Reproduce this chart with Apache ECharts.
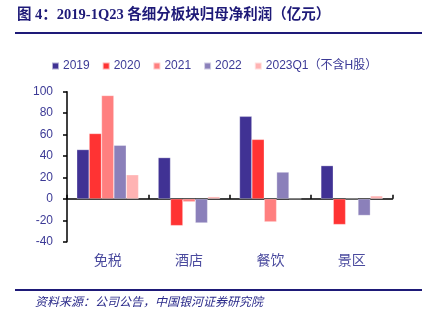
<!DOCTYPE html>
<html>
<head>
<meta charset="utf-8">
<script src="https://cdn.jsdelivr.net/npm/echarts@6/dist/echarts.min.js"></script>
<style>
  html, body { margin: 0; padding: 0; background: #fff; }
  #chart { width: 434px; height: 326px; }
</style>
</head>
<body>
<div id="chart"></div>
<script>
// Segments and yearly net profit attributable to parent (亿元)
const categories = ['免税', '酒店', '餐饮', '景区'];
const seriesNames = ['2019', '2020', '2021', '2022', '2023Q1（不含H股）'];
const v2019 = [46, 38.5, 77, 31];
const v2020 = [61, -25, 55.5, -24];
const v2021 = [96.5, -2.8, -21.5, 0];
const v2022 = [50, -22.5, 25, -15.5];
const v2023Q1 = [22.5, 2, 0, 2.8];
const yTicks = [-40, -20, 0, 20, 40, 60, 80, 100];

const colors = ['#403294', '#FF3333', '#FF7F7F', '#8B80BA', '#FFB3B3'];
const values = [v2019, v2020, v2021, v2022, v2023Q1];
const textBlue = '#3C3A96';

const chart = echarts.init(document.getElementById('chart'), null, { renderer: 'canvas' });

chart.setOption({
  animation: false,
  color: colors,
  graphic: [
    {
      type: 'text', left: 17, top: 8,
      style: {
        text: '图 4：2019-1Q23 各细分板块归母净利润（亿元）',
        font: 'bold 14.5px "Liberation Serif", "Noto Sans CJK SC", serif',
        fill: '#1E1A78'
      }
    },
    {
      type: 'rect', shape: { x: 15, y: 32, width: 407, height: 2 },
      style: { fill: '#1E1A78' }
    },
    {
      type: 'rect', shape: { x: 15, y: 289, width: 407, height: 2 },
      style: { fill: '#1E1A78' }
    },
    {
      type: 'text', left: 35, top: 295,
      style: {
        text: '资料来源：公司公告，中国银河证券研究院',
        font: 'italic 12px "Noto Sans CJK SC", sans-serif',
        fill: '#2A2A8A'
      }
    }
  ],
  legend: {
    left: 46, top: 55,
    itemWidth: 7, itemHeight: 7, itemGap: 12,
    icon: 'rect',
    textStyle: { color: textBlue, fontSize: 12, fontFamily: '"Liberation Sans", "Noto Sans CJK SC", sans-serif', padding: [0, 0, 0, -1] },
    data: seriesNames
  },
  grid: { left: 67, right: 41.5, top: 91.7, bottom: 84.3 },
  xAxis: {
    type: 'category',
    data: categories,
    axisLine: { onZero: true, lineStyle: { color: '#000', width: 1.5 } },
    axisTick: { show: true, inside: true, length: 4, lineStyle: { color: '#000', width: 1.5 } },
    axisLabel: {
      color: '#4A4A9E', fontSize: 14,
      fontFamily: '"Noto Sans CJK SC", sans-serif',
      margin: 11
    }
  },
  yAxis: {
    type: 'value',
    min: yTicks[0], max: yTicks[yTicks.length - 1], interval: 20,
    axisLine: { show: true, lineStyle: { color: '#000', width: 1.5 } },
    axisTick: { show: true, length: 4, lineStyle: { color: '#000', width: 1.5 } },
    splitLine: { show: false },
    axisLabel: {
      color: textBlue, fontSize: 12, margin: 14,
      fontFamily: '"Liberation Sans", sans-serif'
    }
  },
  series: seriesNames.map((name, i) => ({
    name,
    type: 'bar',
    data: values[i],
    barGap: '0%',
    barCategoryGap: '24%',
    itemStyle: { color: colors[i], borderColor: 'rgba(255,255,255,0.6)', borderWidth: 0.5 }
  }))
});
</script>
</body>
</html>
